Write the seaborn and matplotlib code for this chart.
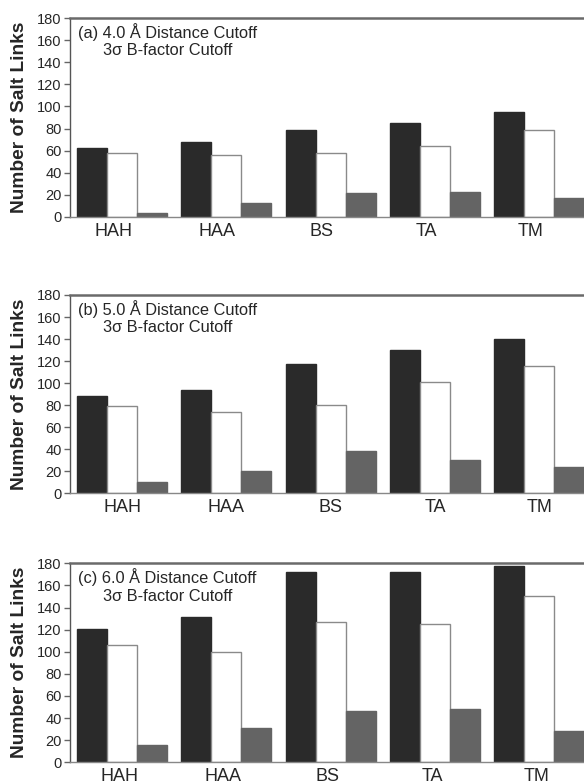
import numpy as np
import pandas as pd
import matplotlib
matplotlib.use("Agg")
import matplotlib.pyplot as plt
import matplotlib.transforms as mtransforms
import seaborn as sns

sns.set_style("white")
plt.rcParams['font.family'] = ['Liberation Sans', 'DejaVu Sans']

categories = ["HAH", "HAA", "BS", "TA", "TM"]
series_names = ["Series 1", "Series 2", "Series 3"]

# (a) 4.0 Å cutoff
a_s1 = [62, 68, 79, 85, 95]
a_s2 = [58, 56, 58, 64, 79]
a_s3 = [4, 13, 22, 23, 17]
# (b) 5.0 Å cutoff
b_s1 = [88, 94, 117, 130, 140]
b_s2 = [79, 74, 80, 101, 116]
b_s3 = [10, 20, 38, 30, 24]
# (c) 6.0 Å cutoff
c_s1 = [121, 131, 172, 172, 178]
c_s2 = [106, 100, 127, 125, 150]
c_s3 = [16, 31, 46, 48, 28]

panel_titles = ["(a) 4.0 Å Distance Cutoff", "(b) 5.0 Å Distance Cutoff", "(c) 6.0 Å Distance Cutoff"]
subtitle = "3σ B-factor Cutoff"
ylabel = "Number of Salt Links"
yticks = [0, 20, 40, 60, 80, 100, 120, 140, 160, 180]

panels = [(a_s1, a_s2, a_s3), (b_s1, b_s2, b_s3), (c_s1, c_s2, c_s3)]

fill_colors = ["#2a2a2a", "#ffffff", "#646464"]
edge_colors = ["#2a2a2a", "#8a8a8a", "#646464"]

fig = plt.figure(figsize=(5.84, 7.81), dpi=100)
W, H = 584, 781
left_px = 70
axes_px = [(18, 217), (295, 493.3), (563.3, 762.3)]
label_shift_px = [-9, 0, -3]

for i, (vals, (top, bot)) in enumerate(zip(panels, axes_px)):
    ax = fig.add_axes([left_px / W, 1 - bot / H, 1 - left_px / W, (bot - top) / H])
    rows = []
    for sname, sv in zip(series_names, vals):
        for c, v in zip(categories, sv):
            rows.append({"category": c, "series": sname, "value": v})
    df = pd.DataFrame(rows)
    sns.barplot(data=df, x="category", y="value", hue="series", order=categories,
                hue_order=series_names, palette=fill_colors, saturation=1,
                width=0.865, ax=ax, legend=False, errorbar=None)
    for cont, ec in zip(ax.containers, edge_colors):
        for p in cont:
            p.set_edgecolor(ec)
            p.set_linewidth(1.0)
    ax.set_xlim(-0.5, 4.43)
    ax.set_ylim(0, 180)
    ax.set_yticks(yticks)
    ax.set_yticklabels([str(t) for t in yticks], fontsize=10.5)
    ax.tick_params(axis='y', direction='out', length=4, width=1, color='#666666', pad=2, left=True)
    ax.tick_params(axis='x', length=0, pad=4, labelsize=13)
    shift = mtransforms.ScaledTranslation(label_shift_px[i] / 100, 0, fig.dpi_scale_trans)
    for lab in ax.get_xticklabels():
        lab.set_transform(lab.get_transform() + shift)
    ax.set_xlabel("")
    ax.set_ylabel("")
    ax.spines["left"].set_color("#555555")
    ax.spines["left"].set_linewidth(1.0)
    ax.spines["bottom"].set_color("#888888")
    ax.spines["bottom"].set_linewidth(1.0)
    ax.spines["top"].set_color("#6a6a6a")
    ax.spines["top"].set_linewidth(1.8)
    ax.spines["right"].set_visible(False)
    ax.text(0.016, 0.93, panel_titles[i], transform=ax.transAxes, fontsize=11.8,
            ha="left", va="center")
    ax.text(0.064, 0.835, subtitle, transform=ax.transAxes, fontsize=11.8,
            ha="left", va="center")
    fig.text(19.5 / W, 1 - (top + bot) / 2 / H, ylabel, rotation=90, fontsize=13.8,
             fontweight="bold", ha="center", va="center")

fig.savefig("out.png", dpi=100)
